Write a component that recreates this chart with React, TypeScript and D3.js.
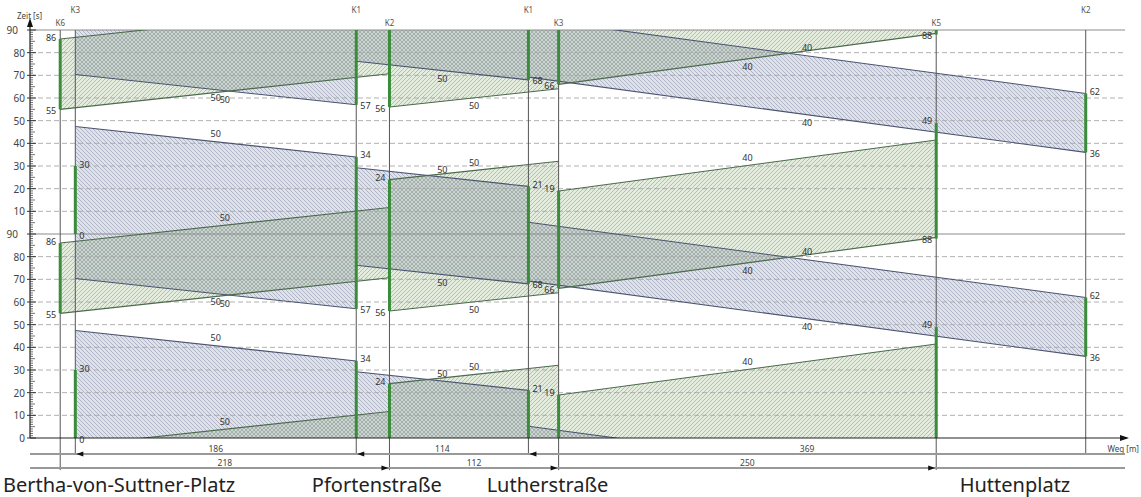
import React from 'react';
import * as d3 from 'd3';

const CYCLE = 90;

// Richtung 1 (blau): Fahrt von rechts nach links
const stopsA = ['K3', 'K1', 'K1', 'K2'];
const distA = [186, 114, 369];
const greenA: [number, number][] = [[0, 30], [57, 124], [68, 111], [36, 62]];
const speedA = [50, 50, 40];
const startA = 30;

// Richtung 2 (grün): Fahrt von links nach rechts
const stopsB = ['K6', 'K2', 'K3', 'K5'];
const distB = [218, 112, 250];
const greenB: [number, number][] = [[55, 86], [56, 114], [66, 109], [88, 139]];
const speedB = [50, 50, 40];
const startB = 20;

const streets = ['Bertha-von-Suttner-Platz', 'Pfortenstraße', 'Lutherstraße', 'Huttenplatz'];

const yTicks = d3.range(0, 2 * CYCLE + 1, 10);
const wegMax = 725;

const FONT = '"Noto Sans", sans-serif';

const colors = {
  blue: { fill: 'url(#hatchBlue)', edge: '#4b5470' },
  green: { fill: 'url(#hatchGreen)', edge: '#4c6a4c' },
};

export default function App() {
  const x = d3.scaleLinear().domain([0, wegMax]).range([30, 1125]);
  const y = d3.scaleLinear().domain([0, 2 * CYCLE]).range([438, 30]);
  const posA = Array.from(d3.cumsum([startA, ...distA]));
  const posB = Array.from(d3.cumsum([startB, ...distB]));
  const travel = (d: number, v: number) => d / (v / 3.6);

  // jede Teilstrecke startet mit dem Grünfenster der vorgelagerten Ampel
  const bands = [
    ...distA.map((d, i) => ({ key: 'A' + i, c: colors.blue, xs: posA[i + 1], xe: posA[i], g: greenA[i + 1], T: travel(d, speedA[i]), v: speedA[i] })),
    ...distB.map((d, i) => ({ key: 'B' + i, c: colors.green, xs: posB[i], xe: posB[i + 1], g: greenB[i], T: travel(d, speedB[i]), v: speedB[i] })),
  ];
  const offsets = [-2 * CYCLE, -CYCLE, 0, CYCLE];

  const line = d3.line<[number, number]>().x(d => x(d[0])).y(d => y(d[1]));

  const stops = [
    ...stopsA.map((n, i) => ({ name: n, m: posA[i], g: greenA[i], row: 0 })),
    ...stopsB.map((n, i) => ({ name: n, m: posB[i], g: greenB[i], row: 1 })),
  ];

  const top = y(2 * CYCLE);
  const bottom = y(0);
  const rowY = [454, 468];

  return (
    <svg width={1141} height={497} style={{ position: 'absolute', left: 0, top: 0, background: '#fff' }} fontFamily={FONT}>
      <defs>
        <pattern id="hatchBlue" patternUnits="userSpaceOnUse" width="4" height="4">
          <rect width="4" height="4" fill="#737b9f" fillOpacity="0.22" />
          <path d="M-1,-1 L5,5 M-1,3 L1,5 M3,-1 L5,1" stroke="#5a6286" strokeOpacity="0.45" strokeWidth="0.8" />
        </pattern>
        <pattern id="hatchGreen" patternUnits="userSpaceOnUse" width="4" height="4">
          <rect width="4" height="4" fill="#80a865" fillOpacity="0.22" />
          <path d="M-1,5 L5,-1 M-1,1 L1,-1 M3,5 L5,3" stroke="#5a8545" strokeOpacity="0.48" strokeWidth="0.8" />
        </pattern>
        <clipPath id="plot">
          <rect x={x(0)} y={top} width={x(wegMax) - x(0)} height={bottom - top} />
        </clipPath>
      </defs>

      {/* Bänder */}
      <g clipPath="url(#plot)">
        {bands.map(b => offsets.map(off => {
          const pts: [number, number][] = [
            [b.xs, b.g[0] + off], [b.xe, b.g[0] + b.T + off],
            [b.xe, b.g[1] + b.T + off], [b.xs, b.g[1] + off],
          ];
          return <path key={b.key + off} d={line(pts) + 'Z'} fill={b.c.fill} stroke="none" />;
        }))}
      </g>

      {/* Raster */}
      {yTicks.filter(t => t % CYCLE !== 0).map(t => (
        <line key={'g' + t} x1={x(0)} x2={x(wegMax)} y1={y(t)} y2={y(t)} stroke="#a8a8a8" strokeDasharray="5,3" strokeWidth={0.9} />
      ))}
      {[CYCLE, 2 * CYCLE].map(t => (
        <line key={'c' + t} x1={x(0)} x2={x(wegMax)} y1={y(t)} y2={y(t)} stroke="#8c8c8c" strokeWidth={1} />
      ))}

      {/* Bandkanten */}
      <g clipPath="url(#plot)">
        {bands.map(b => offsets.map(off => [0, 1].map(k => (
          <path key={b.key + off + 'e' + k} d={line([[b.xs, b.g[k] + off], [b.xe, b.g[k] + b.T + off]]) || ''} stroke={b.c.edge} strokeWidth={1.1} fill="none" />
        ))))}
      </g>

      {/* Geschwindigkeiten */}
      {bands.map(b => offsets.map(off => [0, 1].map(k => {
        const mid = b.g[k] + b.T / 2 + off;
        if (mid <= 2 || mid >= 2 * CYCLE - 2) return null;
        return (
          <text key={b.key + off + 'v' + k} x={x((b.xs + b.xe) / 2)} y={y(mid) + (k === 0 ? 8 : -8)} fontSize={9} fill="#333" textAnchor="middle" dominantBaseline="central">{b.v}</text>
        );
      })))}

      {/* Haltlinien */}
      {stops.map((s, i) => (
        <g key={'s' + i}>
          <line x1={x(s.m)} x2={x(s.m)} y1={top} y2={s.row === 0 ? rowY[0] : rowY[1] + 2} stroke="#555" strokeWidth={1} />
          <text x={x(s.m)} y={s.row === 0 ? 9 : 22} fontSize={8} fill="#555" textAnchor="middle" dominantBaseline="central">{s.name}</text>
        </g>
      ))}

      {/* Grünzeiten */}
      {stops.map((s, i) => [-CYCLE, 0, CYCLE].map(off => {
        const a = Math.max(0, s.g[0] + off);
        const b = Math.min(2 * CYCLE, s.g[1] + off);
        if (b <= a) return null;
        return <line key={'gr' + i + off} x1={x(s.m)} x2={x(s.m)} y1={y(a)} y2={y(b)} stroke="#3a8c3a" strokeWidth={3} />;
      }))}
      {stops.map((s, i) => [0, 1].map(k => {
        const v = s.g[k] % CYCLE;
        return [v, v + CYCLE].filter(t => t < 2 * CYCLE).map(t => (
          <text key={'gl' + i + k + t} x={x(s.m) + (s.row === 0 ? 4 : -4)} y={y(t) + (k === 0 ? 1 : -2)} fontSize={9} fill="#333"
            textAnchor={s.row === 0 ? 'start' : 'end'} dominantBaseline="central">{v}</text>
        ));
      }))}

      {/* Zeitachse */}
      <line x1={x(0)} x2={x(0)} y1={bottom} y2={22} stroke="#222" strokeWidth={1.2} />
      <path d={`M${x(0)},18 L${x(0) - 3},27 L${x(0) + 3},27 Z`} fill="#111" />
      <text x={17} y={15} fontSize={8} fill="#444" dominantBaseline="central">Zeit [s]</text>
      {d3.range(0, 2 * CYCLE + 1, 1).filter(t => t % 10 !== 0).map(t => (
        <line key={'mt' + t} x1={x(0)} x2={x(0) + (t % 5 === 0 ? 5 : 3)} y1={y(t)} y2={y(t)} stroke="#333" strokeWidth={0.7} />
      ))}
      {yTicks.map(t => (
        <g key={'yt' + t}>
          <line x1={x(0) - 3} x2={x(0) + 6} y1={y(t)} y2={y(t)} stroke="#333" strokeWidth={1} />
          <text x={t > 0 && t % CYCLE === 0 ? 18 : 25} y={y(t)} fontSize={10} fill="#444" textAnchor="end" dominantBaseline="central">
            {t > 0 && t % CYCLE === 0 ? CYCLE : t % CYCLE}
          </text>
        </g>
      ))}

      {/* Wegachse */}
      <line x1={x(0)} x2={x(wegMax) + 2} y1={bottom} y2={bottom} stroke="#222" strokeWidth={1.2} />
      <path d={`M${x(wegMax) + 4},${bottom} L${x(wegMax) - 5},${bottom - 3} L${x(wegMax) - 5},${bottom + 3} Z`} fill="#111" />
      <text x={1139} y={448} fontSize={8} fill="#444" textAnchor="end" dominantBaseline="central">Weg [m]</text>

      {/* Bemaßung */}
      {rowY.map((ry, r) => (
        <line key={'row' + r} x1={x(0)} x2={x(wegMax)} y1={ry} y2={ry} stroke="#999" strokeWidth={1.8} />
      ))}
      {distA.map((d, i) => (
        <g key={'da' + i}>
          <text x={x((posA[i] + posA[i + 1]) / 2)} y={rowY[0] - 6} fontSize={8.5} fill="#444" textAnchor="middle" dominantBaseline="central">{d}</text>
          <path d={`M${x(posA[i]) + 1},${rowY[0]} L${x(posA[i]) + 8},${rowY[0] - 2.5} L${x(posA[i]) + 8},${rowY[0] + 2.5} Z`} fill="#111" />
        </g>
      ))}
      {distB.map((d, i) => (
        <g key={'db' + i}>
          <text x={x((posB[i] + posB[i + 1]) / 2)} y={rowY[1] - 6} fontSize={8.5} fill="#444" textAnchor="middle" dominantBaseline="central">{d}</text>
          <path d={`M${x(posB[i + 1]) - 1},${rowY[1]} L${x(posB[i + 1]) - 8},${rowY[1] - 2.5} L${x(posB[i + 1]) - 8},${rowY[1] + 2.5} Z`} fill="#111" />
        </g>
      ))}

      {/* Straßennamen */}
      {streets.map((s, i) => (
        <text key={s} x={i === 0 ? 3 : x((posA[i] + posB[i]) / 2) + 4} y={492} fontSize={20} fill="#222" textAnchor={i === 0 ? 'start' : 'middle'}>{s}</text>
      ))}
    </svg>
  );
}
